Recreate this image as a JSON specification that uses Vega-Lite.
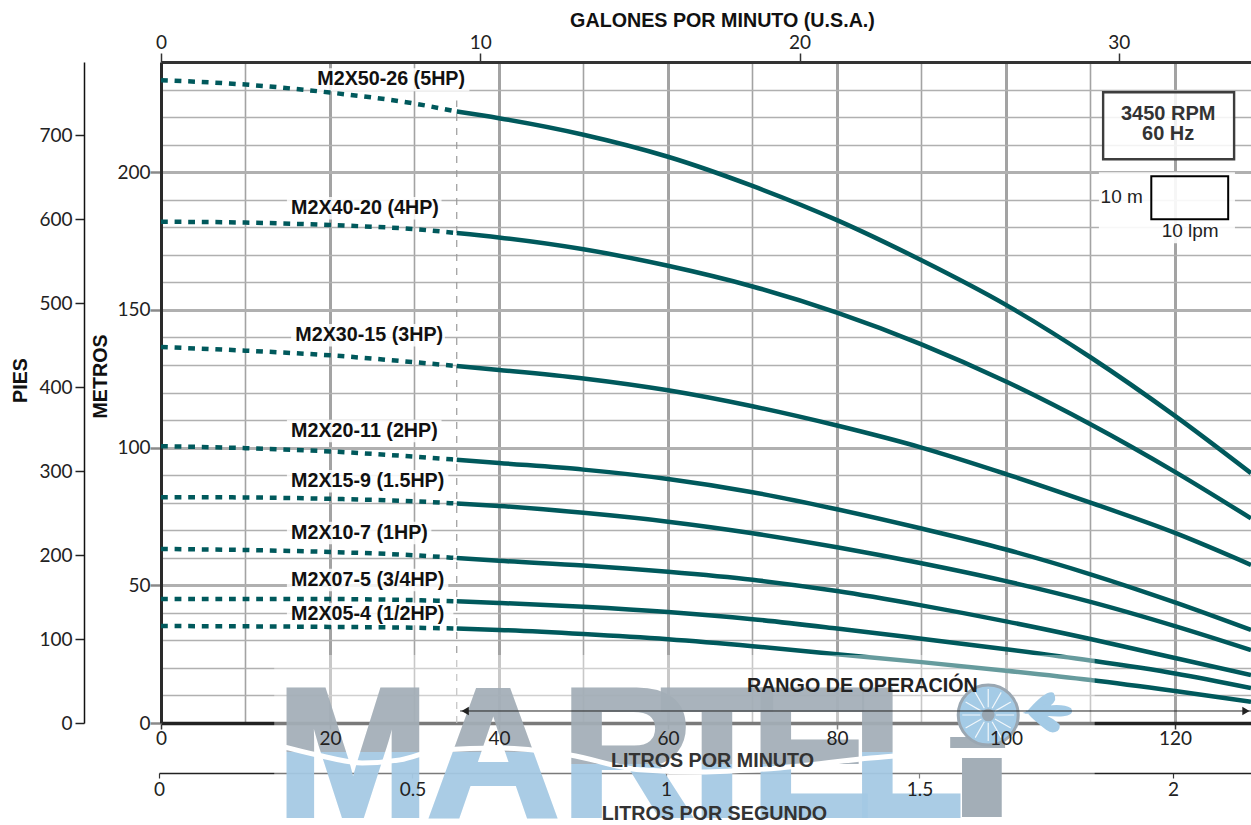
{
"$schema":"https://vega.github.io/schema/vega-lite/v6.json",
"width":1090,"height":661,"autosize":"none","padding":{"left":161,"top":62,"right":0,"bottom":102},"background":"white",
"config":{"view":{"stroke":null},"axis":{"labelFont":"Lato","labelFontSize":19,"labelColor":"#222","labelFlush":false,"titleFont":"Liberation Sans","titleFontSize":19.7,"titleFontWeight":"bold","titleColor":"#111","grid":false,"tickColor":"#333"}},
"resolve":{"scale":{"x":"independent","y":"independent"},"axis":{"x":"independent","y":"independent"}},
"datasets":{
"refs":[{"lpm":0,"m":0,"gpm":0,"lps":0,"ft":0},{"lpm":129,"m":240,"gpm":34.14,"lps":2.154,"ft":787}],
"curves":[
{"model":"5HP","lpm":0,"m":233.4},{"model":"5HP","lpm":10,"m":231.8},{"model":"5HP","lpm":20,"m":228.9},{"model":"5HP","lpm":30,"m":224.9},{"model":"5HP","lpm":35,"m":222},{"model":"5HP","lpm":40,"m":219.6},{"model":"5HP","lpm":50,"m":213.6},{"model":"5HP","lpm":60,"m":205.6},{"model":"5HP","lpm":70,"m":195},{"model":"5HP","lpm":80,"m":182.6},{"model":"5HP","lpm":90,"m":168},{"model":"5HP","lpm":100,"m":151.8},{"model":"5HP","lpm":110,"m":132.8},{"model":"5HP","lpm":120,"m":111.5},{"model":"5HP","lpm":129,"m":90.7},
{"model":"4HP","lpm":0,"m":182},{"model":"4HP","lpm":10,"m":181.7},{"model":"4HP","lpm":20,"m":180.8},{"model":"4HP","lpm":30,"m":179.3},{"model":"4HP","lpm":35,"m":177.9},{"model":"4HP","lpm":40,"m":176.3},{"model":"4HP","lpm":50,"m":172},{"model":"4HP","lpm":60,"m":166},{"model":"4HP","lpm":70,"m":158.5},{"model":"4HP","lpm":80,"m":149},{"model":"4HP","lpm":90,"m":137.5},{"model":"4HP","lpm":100,"m":124},{"model":"4HP","lpm":110,"m":108.5},{"model":"4HP","lpm":120,"m":91.2},{"model":"4HP","lpm":129,"m":74.3},
{"model":"3HP","lpm":0,"m":136.5},{"model":"3HP","lpm":10,"m":135.2},{"model":"3HP","lpm":20,"m":133.5},{"model":"3HP","lpm":30,"m":131},{"model":"3HP","lpm":35,"m":129.6},{"model":"3HP","lpm":40,"m":128.2},{"model":"3HP","lpm":50,"m":125.1},{"model":"3HP","lpm":60,"m":120.8},{"model":"3HP","lpm":70,"m":115},{"model":"3HP","lpm":80,"m":108},{"model":"3HP","lpm":90,"m":100},{"model":"3HP","lpm":100,"m":90.4},{"model":"3HP","lpm":110,"m":80},{"model":"3HP","lpm":120,"m":69},{"model":"3HP","lpm":129,"m":57.4},
{"model":"2HP","lpm":0,"m":100.5},{"model":"2HP","lpm":10,"m":99.8},{"model":"2HP","lpm":20,"m":98.6},{"model":"2HP","lpm":30,"m":96.7},{"model":"2HP","lpm":35,"m":95.6},{"model":"2HP","lpm":40,"m":94.4},{"model":"2HP","lpm":50,"m":92},{"model":"2HP","lpm":60,"m":88.6},{"model":"2HP","lpm":70,"m":83.8},{"model":"2HP","lpm":80,"m":77.6},{"model":"2HP","lpm":90,"m":70.6},{"model":"2HP","lpm":100,"m":63},{"model":"2HP","lpm":110,"m":54},{"model":"2HP","lpm":120,"m":43.8},{"model":"2HP","lpm":129,"m":33.8},
{"model":"1.5HP","lpm":0,"m":82},{"model":"1.5HP","lpm":10,"m":81.9},{"model":"1.5HP","lpm":20,"m":81.4},{"model":"1.5HP","lpm":30,"m":80.5},{"model":"1.5HP","lpm":35,"m":79.7},{"model":"1.5HP","lpm":40,"m":78.8},{"model":"1.5HP","lpm":50,"m":76.3},{"model":"1.5HP","lpm":60,"m":73.1},{"model":"1.5HP","lpm":70,"m":68.9},{"model":"1.5HP","lpm":80,"m":63.8},{"model":"1.5HP","lpm":90,"m":58},{"model":"1.5HP","lpm":100,"m":51.5},{"model":"1.5HP","lpm":110,"m":44},{"model":"1.5HP","lpm":120,"m":35.2},{"model":"1.5HP","lpm":129,"m":26.5},
{"model":"1HP","lpm":0,"m":63.2},{"model":"1HP","lpm":10,"m":62.8},{"model":"1HP","lpm":20,"m":62.1},{"model":"1HP","lpm":30,"m":60.9},{"model":"1HP","lpm":35,"m":59.9},{"model":"1HP","lpm":40,"m":58.9},{"model":"1HP","lpm":50,"m":57.2},{"model":"1HP","lpm":60,"m":54.9},{"model":"1HP","lpm":70,"m":52},{"model":"1HP","lpm":80,"m":47.9},{"model":"1HP","lpm":90,"m":42.7},{"model":"1HP","lpm":100,"m":36.9},{"model":"1HP","lpm":110,"m":30.5},{"model":"1HP","lpm":120,"m":23.6},{"model":"1HP","lpm":129,"m":17.4},
{"model":"3/4HP","lpm":0,"m":45},{"model":"3/4HP","lpm":10,"m":45},{"model":"3/4HP","lpm":20,"m":45},{"model":"3/4HP","lpm":30,"m":44.6},{"model":"3/4HP","lpm":35,"m":44.2},{"model":"3/4HP","lpm":40,"m":43.6},{"model":"3/4HP","lpm":50,"m":42.2},{"model":"3/4HP","lpm":60,"m":40.3},{"model":"3/4HP","lpm":70,"m":37.7},{"model":"3/4HP","lpm":80,"m":34.3},{"model":"3/4HP","lpm":90,"m":30.6},{"model":"3/4HP","lpm":100,"m":26.8},{"model":"3/4HP","lpm":110,"m":22.7},{"model":"3/4HP","lpm":120,"m":18},{"model":"3/4HP","lpm":129,"m":12.7},
{"model":"1/2HP","lpm":0,"m":35.2},{"model":"1/2HP","lpm":10,"m":35.1},{"model":"1/2HP","lpm":20,"m":34.9},{"model":"1/2HP","lpm":30,"m":34.6},{"model":"1/2HP","lpm":35,"m":34.3},{"model":"1/2HP","lpm":40,"m":33.8},{"model":"1/2HP","lpm":50,"m":32.3},{"model":"1/2HP","lpm":60,"m":30.4},{"model":"1/2HP","lpm":70,"m":27.9},{"model":"1/2HP","lpm":80,"m":25},{"model":"1/2HP","lpm":90,"m":22.1},{"model":"1/2HP","lpm":100,"m":19},{"model":"1/2HP","lpm":110,"m":15.6},{"model":"1/2HP","lpm":120,"m":11.6},{"model":"1/2HP","lpm":129,"m":7.7}
],
"labels":[
{"t":"M2X50-26 (5HP)","lpm":18.5,"m":233.8,"x0":18,"x1":36.5,"m0":229.4,"m1":237.7},
{"t":"M2X40-20 (4HP)","lpm":15.4,"m":186.9,"x0":14.9,"x1":33.2,"m0":182.8,"m1":191},
{"t":"M2X30-15 (3HP)","lpm":15.9,"m":140.8,"x0":15.4,"x1":33.6,"m0":136.7,"m1":144.9},
{"t":"M2X20-11 (2HP)","lpm":15.4,"m":106,"x0":14.9,"x1":33.2,"m0":101.9,"m1":110.1},
{"t":"M2X15-9 (1.5HP)","lpm":15.4,"m":87.8,"x0":14.9,"x1":34,"m0":83.7,"m1":91.9},
{"t":"M2X10-7 (1HP)","lpm":15.4,"m":69,"x0":14.9,"x1":32,"m0":64.9,"m1":73.1},
{"t":"M2X07-5 (3/4HP)","lpm":15.4,"m":51.9,"x0":14.9,"x1":34,"m0":47.8,"m1":56},
{"t":"M2X05-4  (1/2HP)","lpm":15.4,"m":39.6,"x0":14.9,"x1":34.6,"m0":35.5,"m1":43.7}
]
},
"encoding":{
"x":{"field":"lpm","type":"quantitative","scale":{"domain":[0,129],"nice":false,"zero":false},"axis":null},
"y":{"field":"m","type":"quantitative","scale":{"domain":[0,240],"nice":false,"zero":false},"axis":null}
},
"layer":[
{"data":{"name":"labels"},"mark":{"type":"rect","fill":"white","opacity":0.85},
 "encoding":{
  "x":{"field":"x0","type":"quantitative","scale":{"domain":[0,129],"nice":false,"zero":false},"axis":{"orient":"bottom","values":[10,20,30,40,50,60,70,80,90,100,110,120],"grid":true,"gridColor":"#a3a3a3","gridWidth":{"condition":{"test":"datum.value % 20 === 0","value":3},"value":1.6},"domain":false,"ticks":false,"labels":false,"title":null,"zindex":0}},
  "x2":{"field":"x1"},
  "y":{"field":"m0","type":"quantitative","scale":{"domain":[0,240],"nice":false,"zero":false},"axis":{"orient":"left","values":[10,20,30,40,50,60,70,80,90,100,110,120,130,140,150,160,170,180,190,200,210,220,230],"grid":true,"gridColor":"#b0b0b0","gridWidth":{"condition":{"test":"datum.value % 50 === 0","value":3},"value":1.5},"domain":false,"ticks":false,"labels":false,"title":null,"zindex":0}},
  "y2":{"field":"m1"}}},
{"data":{"values":[{"x0":111,"x1":127.1,"m0":174.2,"m1":200}]},"mark":{"type":"rect","fill":"white","opacity":0.9},
 "encoding":{"x":{"field":"x0","type":"quantitative","scale":{"domain":[0,129],"nice":false,"zero":false},"axis":null},"x2":{"field":"x1"},"y":{"field":"m0","type":"quantitative","scale":{"domain":[0,240],"nice":false,"zero":false},"axis":null},"y2":{"field":"m1"}}},
{"data":{"name":"refs"},"mark":{"type":"point","opacity":0},
 "encoding":{
  "x":{"field":"lpm","type":"quantitative","scale":{"domain":[0,129],"nice":false,"zero":false},"axis":{"orient":"bottom","values":[0,20,40,60,80,100,120],"domain":true,"domainColor":"#222","domainWidth":3.5,"ticks":true,"tickSize":6,"tickWidth":1.5,"labels":false,"title":null,"zindex":0}},
  "y":{"field":"m","type":"quantitative","scale":{"domain":[0,240],"nice":false,"zero":false},"axis":{"orient":"left","values":[0,50,100,150,200],"format":"d","domain":true,"domainColor":"#2a2a2a","domainWidth":3,"ticks":true,"tickSize":11,"tickWidth":2.5,"tickColor":"#8a8a8a","labelPadding":0,"title":"METROS","titleAngle":-90,"titleX":-61,"titleY":314,"titleAlign":"center","titleBaseline":"middle","zindex":0}}}},
{"data":{"name":"refs"},"mark":{"type":"point","opacity":0},
 "encoding":{
  "x":{"field":"gpm","type":"quantitative","scale":{"domain":[0,34.14],"nice":false,"zero":false},"axis":{"orient":"top","values":[0,10,20,30],"format":"d","domain":true,"domainColor":"#333","domainWidth":3,"tickSize":9,"tickWidth":1.5,"labelPadding":1,"title":"GALONES POR MINUTO (U.S.A.)","titleX":561,"titleY":-42,"titleAlign":"center","titleBaseline":"middle","zindex":0}},
  "y":{"field":"ft","type":"quantitative","scale":{"domain":[0,787],"nice":false,"zero":false},"axis":{"orient":"left","offset":77,"values":[0,100,200,300,400,500,600,700],"format":"d","domain":true,"domainColor":"#111","domainWidth":1.5,"tickSize":9,"tickWidth":1.5,"tickColor":"#222","labelPadding":3,"title":"PIES","titleAngle":-90,"titleX":-64,"titleY":318,"titleAlign":"center","titleBaseline":"middle","zindex":0}}}},
{"data":{"name":"refs"},"mark":{"type":"point","opacity":0},
 "encoding":{
  "x":{"field":"lps","type":"quantitative","scale":{"domain":[0,2.154],"range":[-2,1090],"nice":false,"zero":false},"axis":{"orient":"bottom","offset":50,"values":[0,0.5,1,1.5,2],"domain":true,"domainColor":"#222","domainWidth":1.5,"tickSize":5,"tickWidth":1.2,"labels":false,"title":null,"zindex":0}}}},
{"data":{"values":[{"lpm":35,"a":0,"b":226}]},"mark":{"type":"rule","color":"#9a9a9a","strokeWidth":1.2,"strokeDash":[7,7]},
 "encoding":{"x":{"field":"lpm","type":"quantitative","scale":{"domain":[0,129],"nice":false,"zero":false},"axis":null},"y":{"field":"a","type":"quantitative","scale":{"domain":[0,240],"nice":false,"zero":false},"axis":null},"y2":{"field":"b"}}},
{"data":{"name":"curves"},"transform":[{"filter":"datum.lpm <= 35"}],"mark":{"type":"line","color":"#00595c","strokeWidth":4.5,"strokeDash":[6.8,6.8],"interpolate":"monotone"},"encoding":{"detail":{"field":"model"}}},
{"data":{"name":"curves"},"transform":[{"filter":"datum.lpm >= 35"}],"mark":{"type":"line","color":"#00595c","strokeWidth":4.5,"interpolate":"monotone"},"encoding":{"detail":{"field":"model"}}},
{"data":{"values":[{"x0":111.5,"x1":127,"m0":204.7,"m1":229}]},"mark":{"type":"rect","fill":"white","fillOpacity":0.85,"stroke":"#3d3d3d","strokeWidth":2.4},
 "encoding":{"x":{"field":"x0","type":"quantitative","scale":{"domain":[0,129],"nice":false,"zero":false},"axis":null},"x2":{"field":"x1"},"y":{"field":"m0","type":"quantitative","scale":{"domain":[0,240],"nice":false,"zero":false},"axis":null},"y2":{"field":"m1"}}},
{"data":{"values":[{"x0":117.2,"x1":126.3,"m0":182.9,"m1":198.5}]},"mark":{"type":"rect","fillOpacity":0,"stroke":"#000","strokeWidth":2},
 "encoding":{"x":{"field":"x0","type":"quantitative","scale":{"domain":[0,129],"nice":false,"zero":false},"axis":null},"x2":{"field":"x1"},"y":{"field":"m0","type":"quantitative","scale":{"domain":[0,240],"nice":false,"zero":false},"axis":null},"y2":{"field":"m1"}}},
{"data":{"values":[{"t":"3450 RPM","lpm":119.2,"m":221},{"t":"60 Hz","lpm":119.2,"m":213.8}]},"mark":{"type":"text","font":"Liberation Sans","fontWeight":"bold","fontSize":20,"color":"#333","align":"center","baseline":"middle"},"encoding":{"text":{"field":"t"}}},
{"data":{"values":[{"t":"10 m","lpm":113.7,"m":190.9},{"t":"10 lpm","lpm":121.8,"m":178.6}]},"mark":{"type":"text","font":"Liberation Sans","fontSize":19,"color":"#222","align":"center","baseline":"middle"},"encoding":{"text":{"field":"t"}}},
{"data":{"name":"labels"},"mark":{"type":"text","font":"Liberation Sans","fontWeight":"bold","fontSize":19.7,"color":"#111","align":"left","baseline":"middle"},"encoding":{"text":{"field":"t"}}},
{"data":{"values":[{"x0":13.4,"x1":110.5,"m0":-37,"m1":24.7}]},"mark":{"type":"rect","fill":"white","opacity":0.4},
 "encoding":{"x":{"field":"x0","type":"quantitative","scale":{"domain":[0,129],"nice":false,"zero":false},"axis":null},"x2":{"field":"x1"},"y":{"field":"m0","type":"quantitative","scale":{"domain":[0,240],"nice":false,"zero":false},"axis":null},"y2":{"field":"m1"}}},
{"data":{"values":[{"l":"M","lpm":22.7,"m":-33.6},{"l":"A","lpm":39.3,"m":-33.6},{"l":"L","lpm":88.4,"m":-33.6}]},"mark":{"type":"text","font":"Liberation Sans","fontWeight":"bold","fontSize":184,"align":"center","baseline":"alphabetic","opacity":0.93,"strokeWidth":4,
 "fill":{"gradient":"linear","x1":0,"y1":0,"x2":0,"y2":1,"stops":[{"offset":0,"color":"#a3aeb7"},{"offset":0.5,"color":"#a3aeb7"},{"offset":0.5,"color":"#a4c9e4"},{"offset":1,"color":"#a4c9e4"}]},
 "stroke":{"gradient":"linear","x1":0,"y1":0,"x2":0,"y2":1,"stops":[{"offset":0,"color":"#a3aeb7"},{"offset":0.5,"color":"#a3aeb7"},{"offset":0.5,"color":"#a4c9e4"},{"offset":1,"color":"#a4c9e4"}]}},"encoding":{"text":{"field":"l"}}},
{"data":{"values":[{"l":"R","lpm":55.2,"m":-33.6},{"l":"T","lpm":65.8,"m":-33.6},{"l":"E","lpm":77,"m":-33.6}]},"mark":{"type":"text","font":"Liberation Sans","fontWeight":"bold","fontSize":184,"align":"center","baseline":"alphabetic","opacity":0.93,"strokeWidth":4,
 "fill":{"gradient":"linear","x1":0,"y1":0,"x2":0,"y2":1,"stops":[{"offset":0,"color":"#a3aeb7"},{"offset":0.562,"color":"#a3aeb7"},{"offset":0.562,"color":"#a4c9e4"},{"offset":1,"color":"#a4c9e4"}]},
 "stroke":{"gradient":"linear","x1":0,"y1":0,"x2":0,"y2":1,"stops":[{"offset":0,"color":"#a3aeb7"},{"offset":0.562,"color":"#a3aeb7"},{"offset":0.562,"color":"#a4c9e4"},{"offset":1,"color":"#a4c9e4"}]}},"encoding":{"text":{"field":"l"}}},
{"data":{"values":[{"x0":94.8,"x1":99.5,"m0":-34.1,"m1":-12.7},{"x0":93.4,"x1":99.9,"m0":-9.1,"m1":-5.1}]},"mark":{"type":"rect","fill":"#a3aeb7"},
 "encoding":{"x":{"field":"x0","type":"quantitative","scale":{"domain":[0,129],"nice":false,"zero":false},"axis":null},"x2":{"field":"x1"},"y":{"field":"m0","type":"quantitative","scale":{"domain":[0,240],"nice":false,"zero":false},"axis":null},"y2":{"field":"m1"}}},
{"data":{"values":[{"lpm":13.9,"m":-8.1},{"lpm":18.5,"m":-11.6},{"lpm":23.8,"m":-14.5},{"lpm":28.3,"m":-13.4},{"lpm":33,"m":-9.8},{"lpm":40.1,"m":-9.1},{"lpm":48.4,"m":-11.6},{"lpm":56.7,"m":-17},{"lpm":63.8,"m":-17.8},{"lpm":73.2,"m":-16.3},{"lpm":84,"m":-12.7},{"lpm":93.4,"m":-10.5}]},"mark":{"type":"line","color":"white","strokeWidth":5,"interpolate":"monotone"}},
{"data":{"values":[{"lpm":97.9,"m":2.9}]},"mark":{"type":"point","shape":"circle","filled":true,"fill":"#a4cbe6","stroke":"#9aa7b2","strokeWidth":3,"size":3600,"opacity":1}},
{"data":{"values":[{"lpm":97.9,"m":2.9}]},"mark":{"type":"point","shape":"M0.3 0L1 0M0.26 0.15L0.87 0.5M0.15 0.26L0.5 0.87M0 0.3L0 1M-0.15 0.26L-0.5 0.87M-0.26 0.15L-0.87 0.5M-0.3 0L-1 0M-0.26 -0.15L-0.87 -0.5M-0.15 -0.26L-0.5 -0.87M0 -0.3L0 -1M0.15 -0.26L0.5 -0.87M0.26 -0.15L0.87 -0.5","filled":false,"stroke":"white","strokeWidth":1.2,"size":2700,"opacity":0.85}},
{"data":{"values":[{"lpm":97.9,"m":2.9}]},"mark":{"type":"point","shape":"circle","filled":true,"fill":"#9aa7b2","size":160,"opacity":1}},
{"data":{"values":[{"lpm":105.2,"m":4}]},"mark":{"type":"point","shape":"M-0.9 -0.05C-0.5 -0.5 -0.1 -0.85 0.1 -0.8C0.3 -0.5 -0.1 -0.2 -0.9 -0.05ZM-0.9 0C-0.3 -0.25 0.6 -0.3 0.9 -0.1C1 0.1 0.6 0.2 -0.9 0ZM-0.9 0.05C-0.4 0.1 0 0.3 0.35 0.6C0.4 0.85 0.1 0.9 -0.1 0.75C-0.4 0.5 -0.7 0.3 -0.9 0.05Z","filled":true,"fill":"#a4cbe6","stroke":"#a4cbe6","strokeWidth":4,"size":1936,"opacity":1}},
{"data":{"values":[{"t":"RANGO DE OPERACIÓN","lpm":83,"m":13.4}]},"mark":{"type":"text","font":"Liberation Sans","fontWeight":"bold","fontSize":19.7,"color":"#222","align":"center","baseline":"middle"},"encoding":{"text":{"field":"t"}}},
{"data":{"values":[{"lpm":35.4,"lpm2":129,"m":4.36}]},"mark":{"type":"rule","color":"#222","strokeWidth":1},"encoding":{"x2":{"field":"lpm2"}}},
{"data":{"values":[{"lpm":36,"m":4.36,"s":"triangle-left"},{"lpm":128.4,"m":4.36,"s":"triangle-right"}]},"mark":{"type":"point","filled":true,"color":"#222","size":70,"opacity":1},"encoding":{"shape":{"field":"s","type":"nominal","scale":null,"legend":null}}},
{"data":{"name":"refs"},"mark":{"type":"point","opacity":0},
 "encoding":{"x":{"field":"lpm","type":"quantitative","scale":{"domain":[0,129],"nice":false,"zero":false},"axis":{"orient":"bottom","values":[0,20,40,60,80,100,120],"format":"d","domain":false,"ticks":false,"labelPadding":6,"title":"LITROS POR MINUTO","titleColor":"#333","titleX":551,"titleY":37,"titleAlign":"center","titleBaseline":"middle","zindex":1}}}},
{"data":{"name":"refs"},"mark":{"type":"point","opacity":0},
 "encoding":{"x":{"field":"lps","type":"quantitative","scale":{"domain":[0,2.154],"range":[-2,1090],"nice":false,"zero":false},"axis":{"orient":"bottom","offset":50,"values":[0,0.5,1,1.5,2],"format":".1~f","domain":false,"ticks":false,"labelPadding":7,"title":"LITROS POR SEGUNDO","titleColor":"#333","titleX":553,"titleY":40,"titleAlign":"center","titleBaseline":"middle","zindex":1}}}}
]
}
